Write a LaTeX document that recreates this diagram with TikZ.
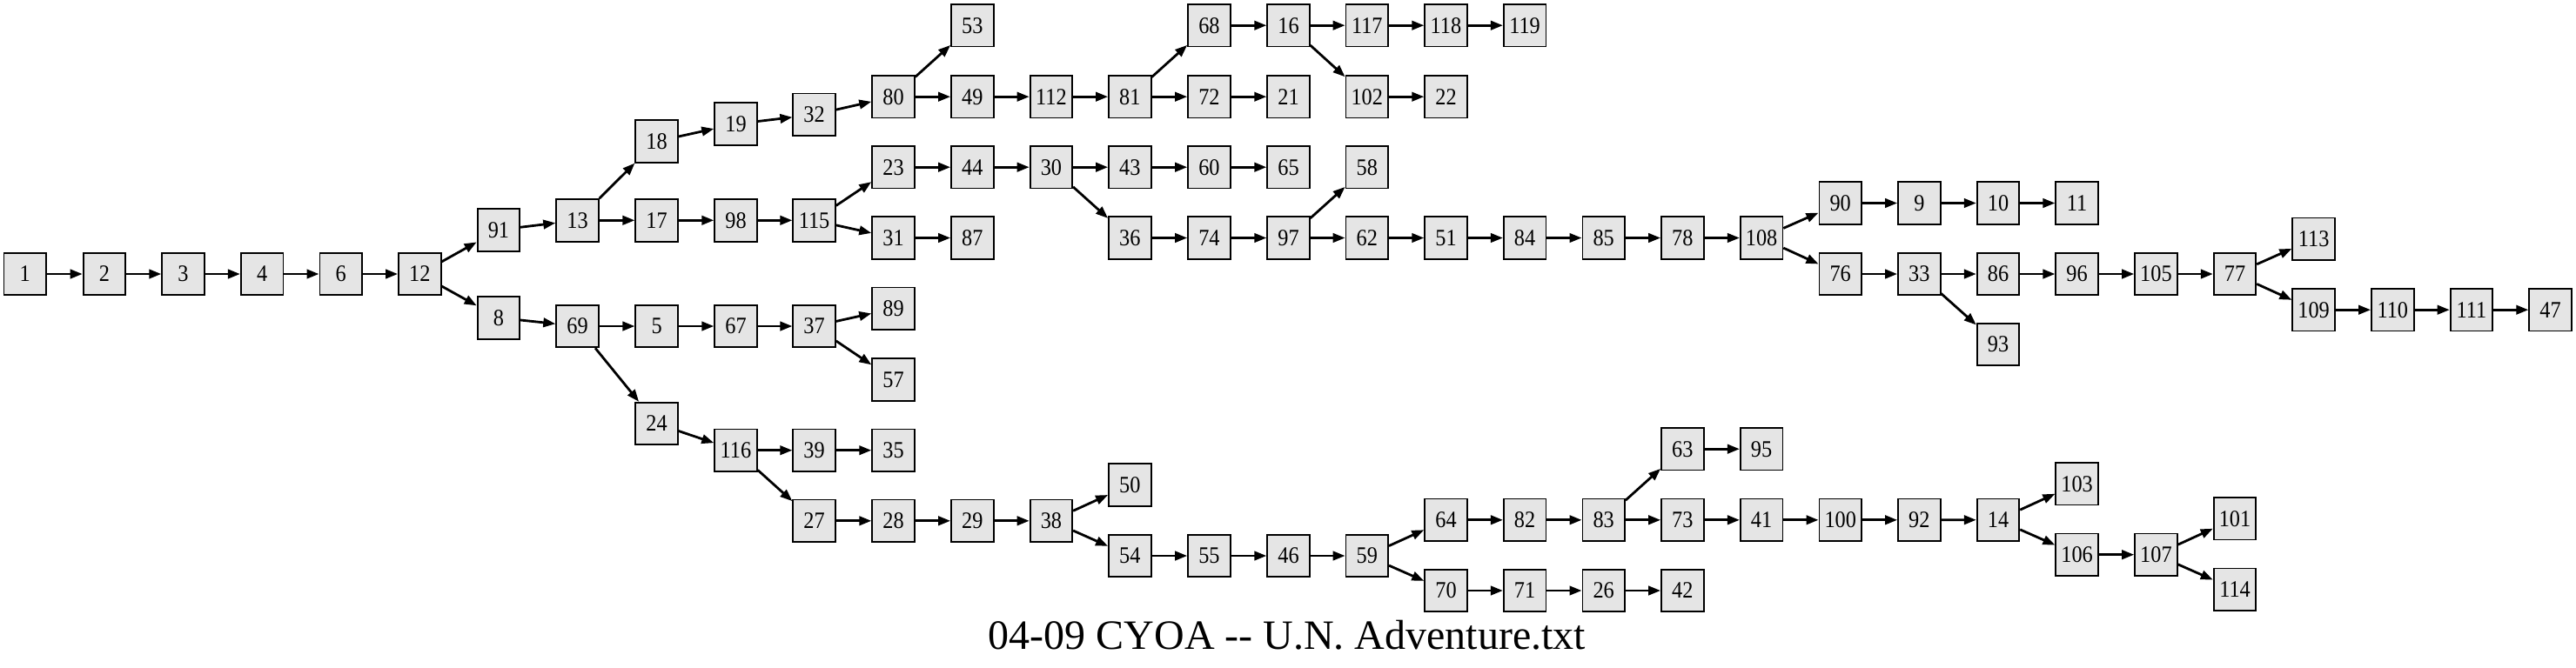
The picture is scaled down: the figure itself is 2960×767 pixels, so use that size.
\documentclass[tikz,border=0pt]{standalone}
\usepackage{fontspec}
\setmainfont{Liberation Serif}
\newfontfamily\nodefont[FakeStretch=0.9]{Liberation Serif}
\usetikzlibrary{arrows.meta}
\definecolor{nodefill}{HTML}{E5E5E5}
\begin{document}
\begin{tikzpicture}[x=0.5pt,y=-0.5pt,
  box/.style={draw=black,fill=nodefill,line width=0.9pt,minimum width=24.3pt,minimum height=24.3pt,inner sep=0pt,font=\nodefont\fontsize{13.5}{13.5}\selectfont},
  edge/.style={line width=1.4pt,-{Triangle[length=7pt,width=5.2pt]}}]
\useasboundingbox (0,0) rectangle (2960,767);
\foreach \n/\x/\y in {
1/28.8/315, 2/119.9/315, 3/210.5/315, 4/301.1/315, 6/391.7/315, 12/482.3/315,
91/572.9/264.3, 8/572.9/365.3, 13/663.5/253.3, 69/663.5/375,
18/754.6/162.5, 17/754.6/253.3, 5/754.6/375, 24/754.6/487,
19/845.5/142.5, 98/845.5/253.3, 67/845.5/375, 116/845.5/517.7,
32/935.6/131.8, 115/935.6/253.3, 37/935.6/375, 39/935.6/517.7, 27/935.6/598.8,
80/1026.5/111.2, 23/1026.5/192.2, 31/1026.5/273.5, 89/1026.5/354.8, 57/1026.5/436.3, 35/1026.5/517.7, 28/1026.5/598.8,
53/1117.3/29.2, 49/1117.3/111.2, 44/1117.3/192.2, 87/1117.3/273.5, 29/1117.3/598.8,
112/1207.9/111.2, 30/1207.9/192.2, 38/1207.9/598.8,
81/1298.3/111.2, 43/1298.3/192.2, 36/1298.3/273.5, 50/1298.3/557.5, 54/1298.3/639,
68/1389.4/29.2, 72/1389.4/111.2, 60/1389.4/192.2, 74/1389.4/273.5, 55/1389.4/639,
16/1480.5/29.2, 21/1480.5/111.2, 65/1480.5/192.2, 97/1480.5/273.5, 46/1480.5/639,
117/1570.8/29.2, 102/1570.8/111.2, 58/1570.8/192.2, 62/1570.8/273.5, 59/1570.8/639,
118/1661.5/29.2, 22/1661.5/111.2, 51/1661.5/273.5, 64/1661.5/597.8, 70/1661.5/679,
119/1752.1/29.2, 84/1752.1/273.5, 82/1752.1/597.8, 71/1752.1/679,
85/1842.7/273.5, 83/1842.7/597.8, 26/1842.7/679,
78/1933.3/273.5, 63/1933.3/516.2, 73/1933.3/597.8, 42/1933.3/679,
108/2024.1/273.5, 95/2024.1/516.2, 41/2024.1/597.8,
90/2114.7/233.5, 76/2114.7/315, 100/2114.7/597.8,
9/2205.3/233.5, 33/2205.3/315, 92/2205.3/597.8,
10/2296/233.5, 86/2296/315, 93/2296/396, 14/2296/597.7,
11/2386.6/233.5, 96/2386.6/315, 103/2386.6/556.2, 106/2386.6/637.7,
105/2477.4/315, 107/2477.4/637.7,
77/2568/315, 101/2568/596.2, 114/2568/677.7,
113/2658.6/274.7, 109/2658.6/356.2, 110/2749.3/356.2, 111/2839.9/356.2, 47/2930.5/356.2}
  \node[box] (n\n) at (\x,\y) {\n};
\foreach \a/\b in {
1/2, 2/3, 3/4, 4/6, 6/12, 12/91, 12/8, 91/13, 13/18, 13/17, 18/19, 19/32, 32/80,
80/53, 80/49, 49/112, 112/81, 81/68, 81/72, 68/16, 72/21, 16/117, 117/118, 118/119,
16/102, 102/22,
17/98, 98/115, 115/23, 115/31, 23/44, 44/30, 30/43, 30/36, 43/60, 60/65, 31/87,
36/74, 74/97, 97/58, 97/62, 62/51, 51/84, 84/85, 85/78, 78/108, 108/90, 108/76,
90/9, 9/10, 10/11, 76/33, 33/86, 33/93, 86/96, 96/105, 105/77, 77/113, 77/109,
109/110, 110/111, 111/47,
8/69, 69/5, 69/24, 5/67, 67/37, 37/89, 37/57, 24/116, 116/39, 116/27, 39/35,
27/28, 28/29, 29/38, 38/50, 38/54, 54/55, 55/46, 46/59, 59/64, 59/70, 64/82,
82/83, 83/63, 83/73, 63/95, 73/41, 41/100, 100/92, 92/14, 14/103, 14/106,
106/107, 107/101, 107/114, 70/71, 71/26, 26/42}
  \draw[edge] (n\a) -- (n\b);
\node[anchor=base,inner sep=0pt,font=\fontsize{24}{24}\selectfont] (title) at (1479,746.7) {04-09 CYOA -{}- U.N. Adventure.txt};
\end{tikzpicture}
\end{document}
